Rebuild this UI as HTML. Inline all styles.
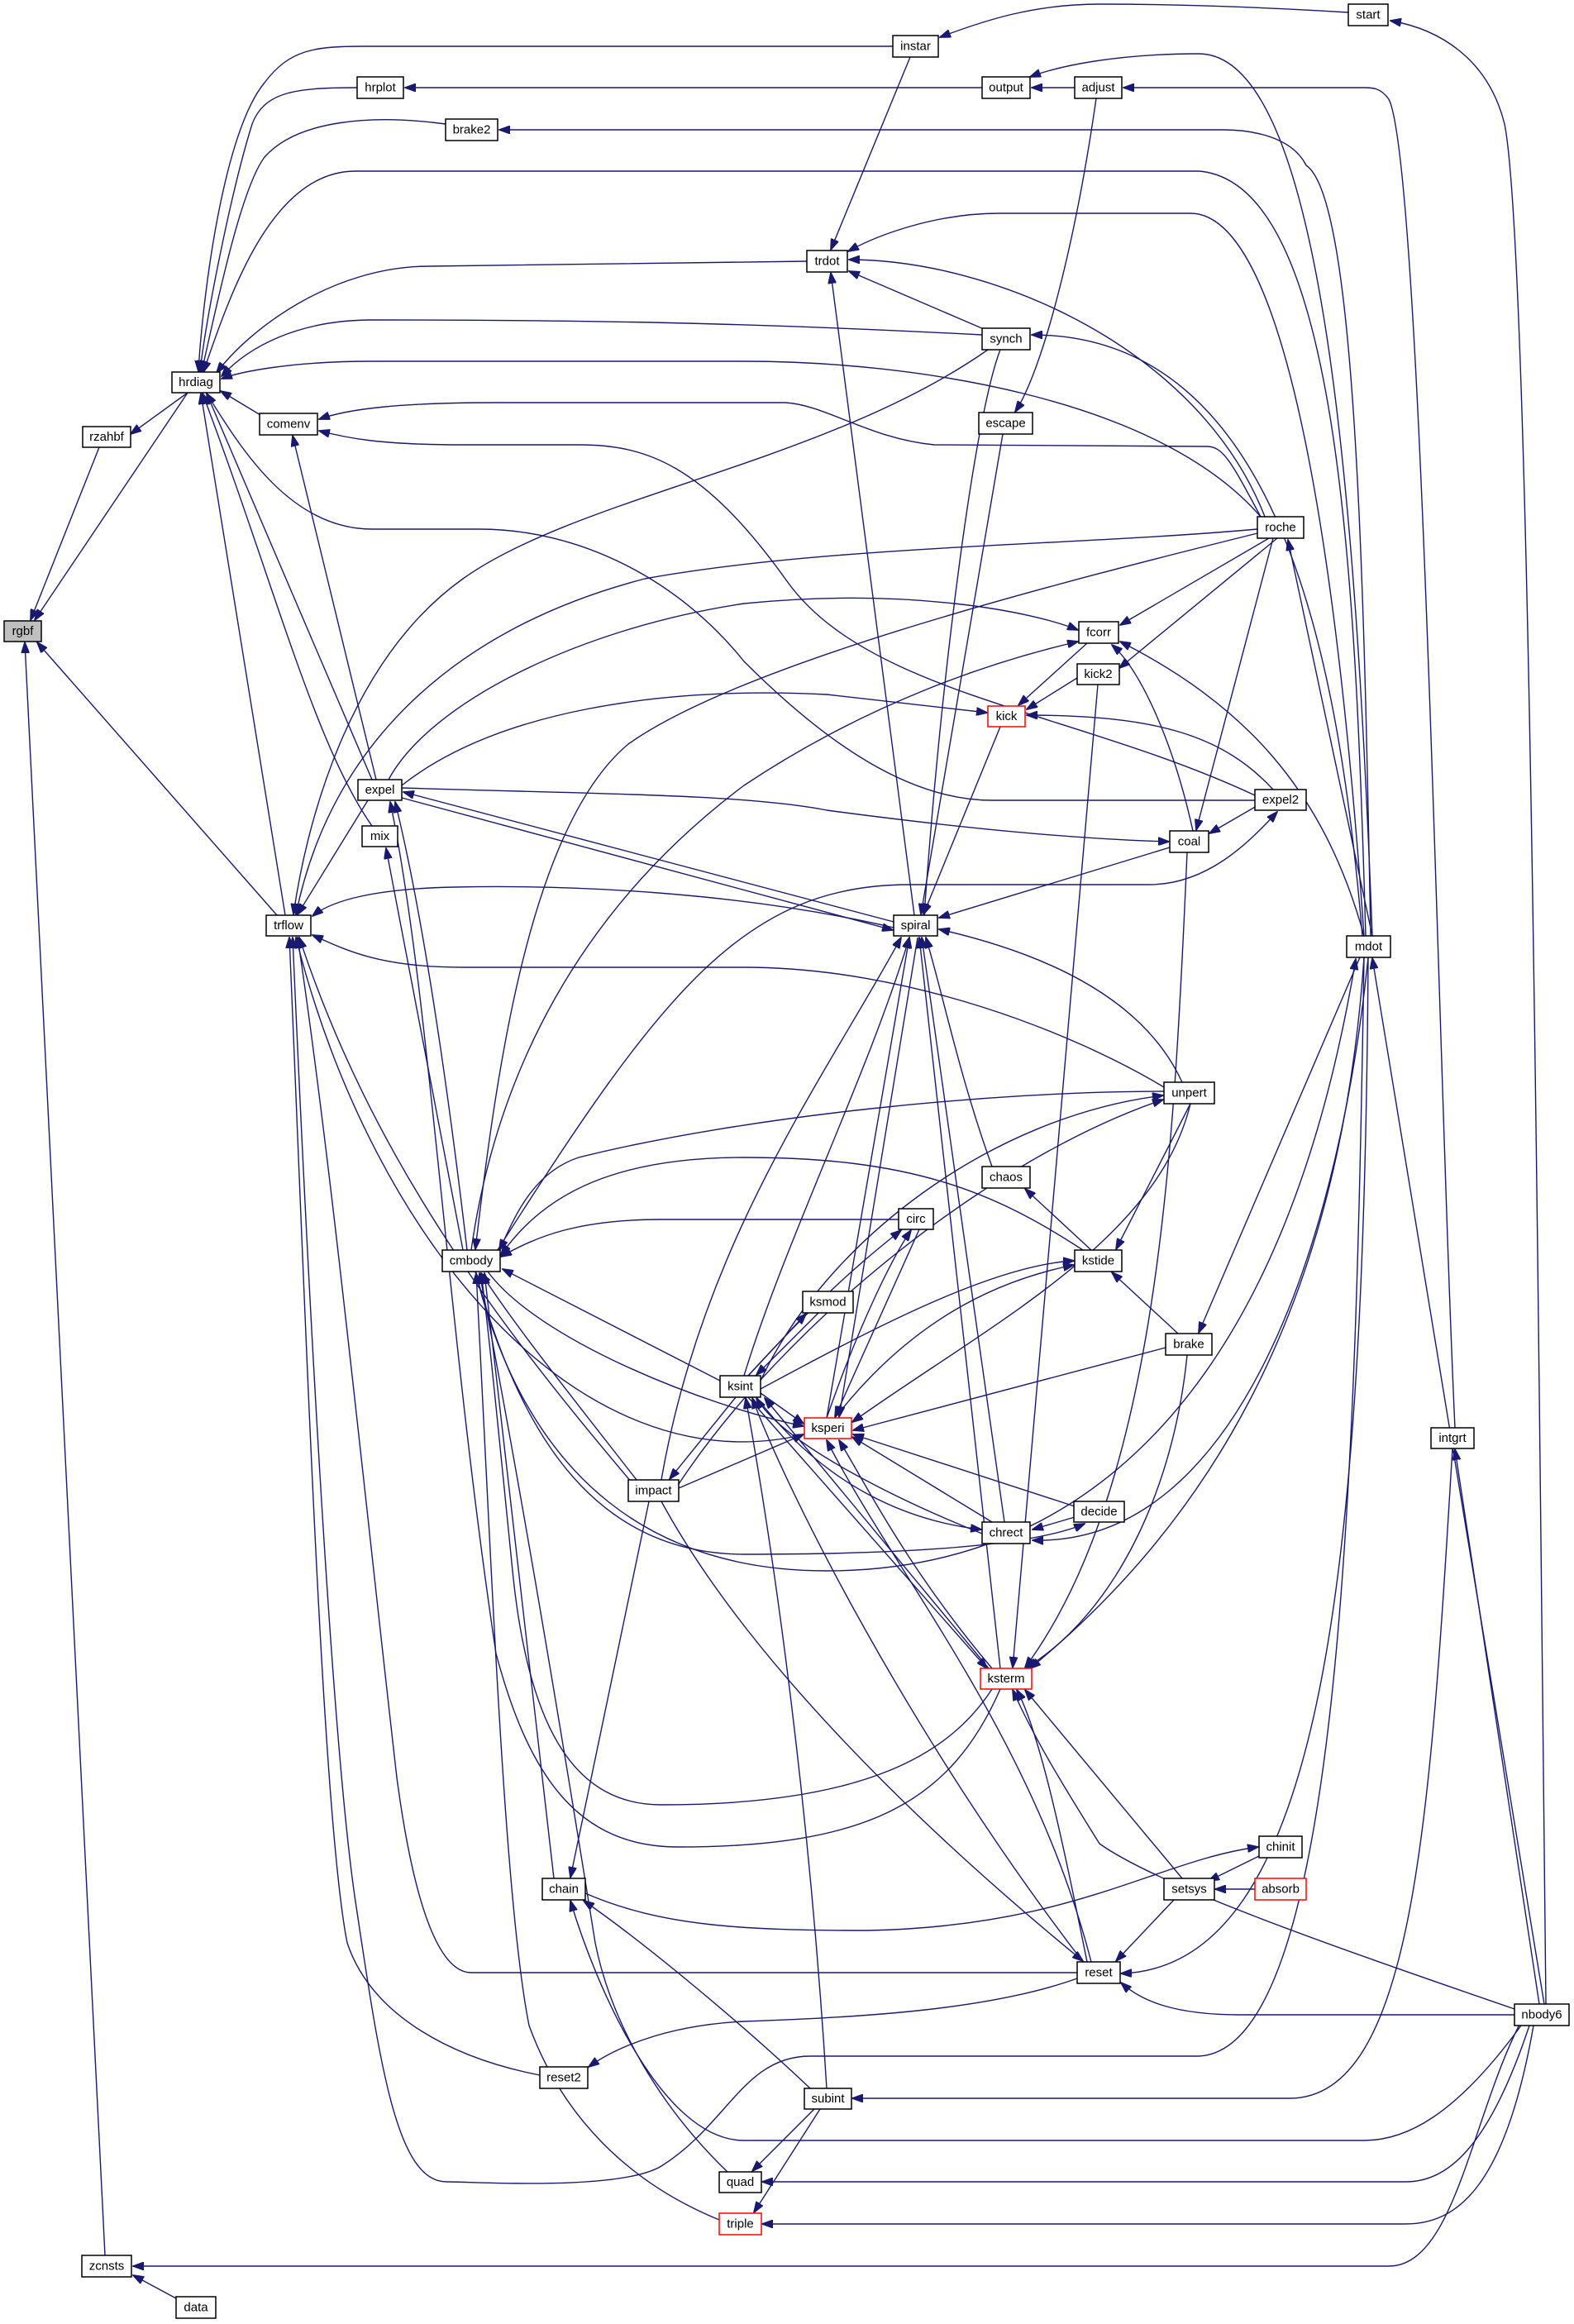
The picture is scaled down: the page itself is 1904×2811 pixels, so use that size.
<!DOCTYPE html>
<html><head><meta charset="utf-8"><style>
html,body{margin:0;padding:0;background:#fff;}
svg{display:block;}
.e{fill:none;stroke:#191970;stroke-width:1.4;marker-end:url(#a);}
.n rect{fill:#fff;stroke:#000;stroke-width:1.5;}
.n text{font-family:"Liberation Sans",sans-serif;font-size:15px;fill:#000;text-anchor:middle;dominant-baseline:central;}
.r rect{stroke:#ff0000;}
</style></head><body>
<svg width="1904" height="2811" viewBox="0 0 1904 2811" xmlns="http://www.w3.org/2000/svg">
<defs><marker id="a" markerWidth="14" markerHeight="10" refX="13" refY="5" orient="auto" markerUnits="userSpaceOnUse"><path d="M0,0 L14,5 L0,10 Z" fill="#191970" stroke="#191970"/></marker></defs>
<g>
<path class="e" d="M120,541 L37,750"/>
<path class="e" d="M227,475 L42,750"/>
<path class="e" d="M335,1107 L45,777"/>
<path class="e" d="M127,2728 L30,777"/>
<path class="e" d="M213,2780 L161,2752"/>
<path class="e" d="M1840,2445 C1780,2560 1760,2741 1680,2741 L161,2741"/>
<path class="e" d="M227,475 L158,525"/>
<path class="e" d="M1080,56 L440,56 C380,56 350,60 320,100 C270,160 245,360 240,449"/>
<path class="e" d="M432,106 C360,106 320,110 305,150 C280,230 250,380 242,449"/>
<path class="e" d="M539,150 C450,138 360,145 320,190 C290,230 260,380 244,449"/>
<path class="e" d="M1652,1132 C1640,700 1620,220 1450,207 L430,207 C330,207 280,350 246,450"/>
<path class="e" d="M976,316 L520,322 C400,322 300,400 262,451"/>
<path class="e" d="M1188,405 C900,390 700,387 450,387 C360,387 300,420 268,455"/>
<path class="e" d="M1525,625 C1400,480 1100,437 900,437 L450,437 C350,437 290,450 268,458"/>
<path class="e" d="M320,505 L267,473"/>
<path class="e" d="M450,943 L250,476"/>
<path class="e" d="M450,999 C380,900 330,700 245,476"/>
<path class="e" d="M345,1107 L243,476"/>
<path class="e" d="M1518,968 L1200,968 C1100,968 1000,900 900,800 C820,700 700,640 580,640 L450,640 C350,640 290,540 250,476"/>
<path class="e" d="M1188,106 L490,106"/>
<path class="e" d="M1300,106 L1248,106"/>
<path class="e" d="M1660,1132 C1640,600 1600,65 1450,65 C1350,65 1280,80 1246,93"/>
<path class="e" d="M1760,1727 C1740,1300 1720,200 1680,120 C1670,106 1660,106 1650,106 L1359,106"/>
<path class="e" d="M1631,15 C1500,7 1400,5 1330,5 C1250,5 1190,25 1137,45"/>
<path class="e" d="M1870,2424 C1860,1500 1850,300 1820,150 C1800,70 1740,35 1682,25"/>
<path class="e" d="M1658,1132 C1650,700 1640,240 1580,200 C1560,160 1500,157 1480,157 L604,157"/>
<path class="e" d="M1101,69 L1005,302"/>
<path class="e" d="M1326,119 C1300,300 1260,450 1228,498"/>
<path class="e" d="M1190,398 L1027,328"/>
<path class="e" d="M1106,1107 L1005,330"/>
<path class="e" d="M1530,625 C1450,420 1200,314 1027,314"/>
<path class="e" d="M1650,1132 C1620,700 1560,258 1440,258 L1210,258 C1130,258 1060,285 1026,304"/>
<path class="e" d="M1648,1132 C1620,800 1550,405 1248,405"/>
<path class="e" d="M1213,525 L1114,1106"/>
<path class="e" d="M1210,423 C1180,500 1140,800 1118,1106"/>
<path class="e" d="M1195,423 C1000,560 700,600 560,700 C420,800 370,1000 355,1106"/>
<path class="e" d="M1525,625 C1490,560 1480,540 1460,540 L1130,538 C1050,530 1000,490 950,487 L600,487 C480,487 420,495 386,507"/>
<path class="e" d="M1518,962 C1300,860 1050,840 952,703 C850,560 780,538 700,538 L560,538 C460,538 420,530 386,521"/>
<path class="e" d="M455,943 L354,527"/>
<path class="e" d="M1521,640 C1300,660 1000,660 780,700 C550,760 400,900 358,1106"/>
<path class="e" d="M1535,651 L1355,756"/>
<path class="e" d="M1545,651 L1354,808"/>
<path class="e" d="M1540,651 L1447,1004"/>
<path class="e" d="M1660,1132 L1558,653"/>
<path class="e" d="M1521,645 C1300,700 900,800 760,900 C640,1000 600,1300 575,1511"/>
<path class="e" d="M470,943 C520,850 700,760 900,730 C1100,710 1250,740 1304,762"/>
<path class="e" d="M570,1512 C600,1300 700,1100 900,950 C1050,850 1200,800 1304,776"/>
<path class="e" d="M1443,1005 C1420,900 1380,810 1345,780"/>
<path class="e" d="M1650,1132 C1600,950 1500,850 1355,776"/>
<path class="e" d="M1315,778 L1232,853"/>
<path class="e" d="M1303,820 L1242,858"/>
<path class="e" d="M486,950 C600,860 800,830 1000,840 L1194,862"/>
<path class="e" d="M1540,955 C1480,890 1400,865 1242,865"/>
<path class="e" d="M1210,879 L1117,1106"/>
<path class="e" d="M1328,828 L1225,2017"/>
<path class="e" d="M1520,975 L1463,1008"/>
<path class="e" d="M600,1515 C800,1200 900,1070 1100,1070 L1390,1070 C1460,1070 1510,1020 1545,982"/>
<path class="e" d="M486,953 C700,960 900,960 1000,980 C1150,1000 1300,1015 1414,1018"/>
<path class="e" d="M1415,1025 L1136,1110"/>
<path class="e" d="M1436,1031 C1420,1400 1400,1800 1240,2017"/>
<path class="e" d="M1081,1115 L488,958"/>
<path class="e" d="M486,965 L1080,1125"/>
<path class="e" d="M1081,1122 C900,1080 700,1070 550,1073 C450,1075 400,1090 378,1108"/>
<path class="e" d="M1408,1315 C1300,1250 1100,1170 900,1170 L560,1170 C460,1170 420,1150 378,1131"/>
<path class="e" d="M1430,1309 C1380,1200 1250,1150 1136,1124"/>
<path class="e" d="M1408,1320 C1200,1320 900,1350 700,1400 C640,1420 620,1480 604,1512"/>
<path class="e" d="M920,1670 C1000,1500 1200,1350 1407,1325"/>
<path class="e" d="M821,1795 C950,1600 1200,1400 1407,1330"/>
<path class="e" d="M1440,1335 L1350,1511"/>
<path class="e" d="M1440,1335 C1400,1500 1200,1600 1031,1720"/>
<path class="e" d="M1200,1411 C1160,1300 1140,1200 1120,1134"/>
<path class="e" d="M1320,1512 L1240,1438"/>
<path class="e" d="M1310,1512 C1200,1440 1100,1400 900,1400 C750,1400 660,1440 606,1518"/>
<path class="e" d="M1087,1475 L800,1475 C700,1475 650,1495 606,1520"/>
<path class="e" d="M905,1664 C1000,1560 1050,1520 1090,1488"/>
<path class="e" d="M1000,1715 C1040,1600 1080,1520 1102,1488"/>
<path class="e" d="M1112,1487 L1010,1714"/>
<path class="e" d="M905,1664 L975,1589"/>
<path class="e" d="M990,1588 L915,1663"/>
<path class="e" d="M1425,1613 L1345,1539"/>
<path class="e" d="M1645,1158 L1450,1612"/>
<path class="e" d="M1410,1630 L1032,1730"/>
<path class="e" d="M1436,1639 C1420,1800 1350,1950 1242,2017"/>
<path class="e" d="M920,1680 C1050,1610 1200,1530 1299,1525"/>
<path class="e" d="M1010,1715 C1100,1600 1200,1550 1299,1530"/>
<path class="e" d="M900,1664 C950,1500 1050,1300 1100,1134"/>
<path class="e" d="M800,1790 C850,1500 1000,1300 1090,1134"/>
<path class="e" d="M1000,1715 L1100,1134"/>
<path class="e" d="M1110,1134 L1015,1714"/>
<path class="e" d="M1215,1841 C1180,1600 1140,1300 1115,1134"/>
<path class="e" d="M1210,2018 L1112,1134"/>
<path class="e" d="M871,1670 L608,1535"/>
<path class="e" d="M590,1538 C650,1620 850,1700 972,1725"/>
<path class="e" d="M770,1790 C700,1700 620,1600 582,1540"/>
<path class="e" d="M1303,2386 L570,2386 C530,2386 500,2300 480,2150 C440,1800 400,1400 360,1134"/>
<path class="e" d="M653,2510 C550,2490 450,2440 420,2350 C390,2200 370,1600 350,1134"/>
<path class="e" d="M1650,1158 C1640,1800 1620,2480 1450,2487 L980,2487 C900,2487 880,2570 800,2620 C750,2650 580,2639 540,2639 C480,2639 460,2500 430,2300 C400,2100 370,1500 354,1134"/>
<path class="e" d="M870,2685 C760,2640 680,2560 640,2450 C610,2300 595,1900 576,1540"/>
<path class="e" d="M880,2627 C800,2550 740,2450 720,2350 C680,2100 630,1800 580,1540"/>
<path class="e" d="M670,2272 L586,1540"/>
<path class="e" d="M1200,2043 C1150,2120 1050,2183 800,2183 C700,2183 640,2100 620,1900 C600,1700 590,1600 582,1540"/>
<path class="e" d="M1210,2043 C1150,2180 1050,2234 820,2234 C700,2234 640,2150 600,2000 C540,1600 520,1200 472,970"/>
<path class="e" d="M560,1512 L467,1026"/>
<path class="e" d="M565,1512 C540,1300 510,1100 478,970"/>
<path class="e" d="M445,968 L360,1106"/>
<path class="e" d="M770,1800 C600,1600 450,1400 362,1134"/>
<path class="e" d="M973,1735 C700,1800 450,1500 358,1134"/>
<path class="e" d="M905,1690 L1194,2018"/>
<path class="e" d="M1196,2018 L925,1691"/>
<path class="e" d="M1200,2018 C1100,1900 1050,1800 1015,1742"/>
<path class="e" d="M1000,2526 C980,2200 940,1900 902,1691"/>
<path class="e" d="M1310,2373 C1100,2100 950,1800 910,1691"/>
<path class="e" d="M1320,2373 C1250,2100 1080,1900 1000,1742"/>
<path class="e" d="M1188,1855 C1100,1820 950,1750 915,1691"/>
<path class="e" d="M1200,1841 L1031,1738"/>
<path class="e" d="M1300,1822 L1032,1735"/>
<path class="e" d="M915,1690 C1000,1800 1100,1840 1187,1850"/>
<path class="e" d="M1300,1835 L1249,1850"/>
<path class="e" d="M1655,1158 C1620,1500 1500,1870 1249,1863"/>
<path class="e" d="M575,1538 C620,1700 700,1880 900,1880 C1100,1880 1250,1870 1312,1843"/>
<path class="e" d="M575,1538 C640,1800 800,1900 1000,1900 C1300,1900 1550,1700 1640,1160"/>
<path class="e" d="M821,1800 L972,1735"/>
<path class="e" d="M920,1685 L972,1722"/>
<path class="e" d="M890,1690 L810,1789"/>
<path class="e" d="M785,1816 L690,2271"/>
<path class="e" d="M800,1816 C900,2000 1100,2200 1310,2372"/>
<path class="e" d="M1650,1158 C1620,1600 1450,1850 1246,2018"/>
<path class="e" d="M1430,2272 L1240,2044"/>
<path class="e" d="M1315,2373 C1290,2250 1260,2100 1230,2044"/>
<path class="e" d="M1832,2430 C1600,2350 1400,2280 1330,2230 C1280,2150 1250,2100 1225,2044"/>
<path class="e" d="M1523,2245 L1462,2275"/>
<path class="e" d="M1518,2285 L1470,2285"/>
<path class="e" d="M708,2290 C800,2330 900,2335 1050,2335 C1300,2330 1400,2250 1522,2234"/>
<path class="e" d="M1420,2298 L1350,2372"/>
<path class="e" d="M1655,1158 C1650,1900 1600,2380 1356,2387"/>
<path class="e" d="M1303,2393 C1200,2430 1050,2440 900,2445 C800,2450 740,2480 712,2500"/>
<path class="e" d="M1832,2437 L1500,2437 C1420,2437 1380,2420 1356,2398"/>
<path class="e" d="M980,2526 C900,2450 780,2350 706,2299"/>
<path class="e" d="M1840,2450 C1760,2560 1700,2589 1650,2589 L900,2589 C800,2589 720,2400 690,2299"/>
<path class="e" d="M985,2551 L910,2626"/>
<path class="e" d="M992,2551 L912,2676"/>
<path class="e" d="M1850,2450 C1800,2600 1750,2639 1700,2639 L922,2639"/>
<path class="e" d="M1855,2450 C1820,2650 1760,2690 1700,2690 L922,2690"/>
<path class="e" d="M1757,1752 C1730,2200 1710,2538 1560,2538 L1031,2538"/>
<path class="e" d="M1862,2424 L1760,1753"/>
<path class="e" d="M1868,2424 L1660,1159"/>
</g>
<g class="n" transform="translate(5,751)"><rect width="45" height="25" style="fill:#bfbfbf"/><text x="22.5" y="12.5">rgbf</text></g>
<g class="n" transform="translate(100,516)"><rect width="58" height="25"/><text x="29" y="12.5">rzahbf</text></g>
<g class="n" transform="translate(208,450)"><rect width="58" height="25"/><text x="29" y="12.5">hrdiag</text></g>
<g class="n" transform="translate(432,93)"><rect width="56" height="26"/><text x="28" y="13">hrplot</text></g>
<g class="n" transform="translate(539,144)"><rect width="63" height="26"/><text x="31.5" y="13">brake2</text></g>
<g class="n" transform="translate(314,500)"><rect width="70" height="26"/><text x="35" y="13">comenv</text></g>
<g class="n" transform="translate(1080,43)"><rect width="55" height="26"/><text x="27.5" y="13">instar</text></g>
<g class="n" transform="translate(1631,5)"><rect width="48" height="26"/><text x="24" y="13">start</text></g>
<g class="n" transform="translate(1188,93)"><rect width="58" height="26"/><text x="29" y="13">output</text></g>
<g class="n" transform="translate(1300,93)"><rect width="57" height="26"/><text x="28.5" y="13">adjust</text></g>
<g class="n" transform="translate(976,303)"><rect width="49" height="26"/><text x="24.5" y="13">trdot</text></g>
<g class="n" transform="translate(1188,397)"><rect width="58" height="26"/><text x="29" y="13">synch</text></g>
<g class="n" transform="translate(1184,499)"><rect width="65" height="26"/><text x="32.5" y="13">escape</text></g>
<g class="n" transform="translate(1521,625)"><rect width="56" height="26"/><text x="28" y="13">roche</text></g>
<g class="n" transform="translate(433,943)"><rect width="53" height="25"/><text x="26.5" y="12.5">expel</text></g>
<g class="n" transform="translate(438,999)"><rect width="43" height="25"/><text x="21.5" y="12.5">mix</text></g>
<g class="n" transform="translate(322,1107)"><rect width="54" height="25"/><text x="27" y="12.5">trflow</text></g>
<g class="n" transform="translate(1305,752)"><rect width="48" height="26"/><text x="24" y="13">fcorr</text></g>
<g class="n" transform="translate(1303,803)"><rect width="51" height="25"/><text x="25.5" y="12.5">kick2</text></g>
<g class="n r" transform="translate(1195,854)"><rect width="45" height="25"/><text x="22.5" y="12.5">kick</text></g>
<g class="n" transform="translate(1518,955)"><rect width="62" height="25"/><text x="31" y="12.5">expel2</text></g>
<g class="n" transform="translate(1415,1005)"><rect width="47" height="26"/><text x="23.5" y="13">coal</text></g>
<g class="n" transform="translate(1081,1107)"><rect width="53" height="25"/><text x="26.5" y="12.5">spiral</text></g>
<g class="n" transform="translate(1629,1132)"><rect width="53" height="26"/><text x="26.5" y="13">mdot</text></g>
<g class="n" transform="translate(1408,1309)"><rect width="61" height="26"/><text x="30.5" y="13">unpert</text></g>
<g class="n" transform="translate(1188,1411)"><rect width="58" height="26"/><text x="29" y="13">chaos</text></g>
<g class="n" transform="translate(1087,1462)"><rect width="42" height="25"/><text x="21" y="12.5">circ</text></g>
<g class="n" transform="translate(1300,1512)"><rect width="57" height="26"/><text x="28.5" y="13">kstide</text></g>
<g class="n" transform="translate(535,1512)"><rect width="70" height="26"/><text x="35" y="13">cmbody</text></g>
<g class="n" transform="translate(971,1562)"><rect width="61" height="26"/><text x="30.5" y="13">ksmod</text></g>
<g class="n" transform="translate(1410,1613)"><rect width="56" height="26"/><text x="28" y="13">brake</text></g>
<g class="n" transform="translate(871,1664)"><rect width="49" height="26"/><text x="24.5" y="13">ksint</text></g>
<g class="n r" transform="translate(973,1715)"><rect width="57" height="25"/><text x="28.5" y="12.5">ksperi</text></g>
<g class="n" transform="translate(1731,1727)"><rect width="52" height="25"/><text x="26" y="12.5">intgrt</text></g>
<g class="n" transform="translate(760,1790)"><rect width="61" height="26"/><text x="30.5" y="13">impact</text></g>
<g class="n" transform="translate(1299,1816)"><rect width="61" height="25"/><text x="30.5" y="12.5">decide</text></g>
<g class="n" transform="translate(1188,1841)"><rect width="58" height="26"/><text x="29" y="13">chrect</text></g>
<g class="n r" transform="translate(1186,2018)"><rect width="62" height="25"/><text x="31" y="12.5">ksterm</text></g>
<g class="n" transform="translate(1523,2221)"><rect width="52" height="26"/><text x="26" y="13">chinit</text></g>
<g class="n" transform="translate(1408,2272)"><rect width="61" height="26"/><text x="30.5" y="13">setsys</text></g>
<g class="n r" transform="translate(1518,2272)"><rect width="62" height="26"/><text x="31" y="13">absorb</text></g>
<g class="n" transform="translate(656,2272)"><rect width="52" height="26"/><text x="26" y="13">chain</text></g>
<g class="n" transform="translate(1303,2373)"><rect width="52" height="26"/><text x="26" y="13">reset</text></g>
<g class="n" transform="translate(1832,2424)"><rect width="66" height="26"/><text x="33" y="13">nbody6</text></g>
<g class="n" transform="translate(653,2500)"><rect width="58" height="26"/><text x="29" y="13">reset2</text></g>
<g class="n" transform="translate(973,2526)"><rect width="57" height="25"/><text x="28.5" y="12.5">subint</text></g>
<g class="n" transform="translate(870,2627)"><rect width="51" height="25"/><text x="25.5" y="12.5">quad</text></g>
<g class="n r" transform="translate(870,2677)"><rect width="51" height="26"/><text x="25.5" y="13">triple</text></g>
<g class="n" transform="translate(99,2728)"><rect width="60" height="26"/><text x="30" y="13">zcnsts</text></g>
<g class="n" transform="translate(213,2778)"><rect width="48" height="26"/><text x="24" y="13">data</text></g>
</svg>
</body></html>
